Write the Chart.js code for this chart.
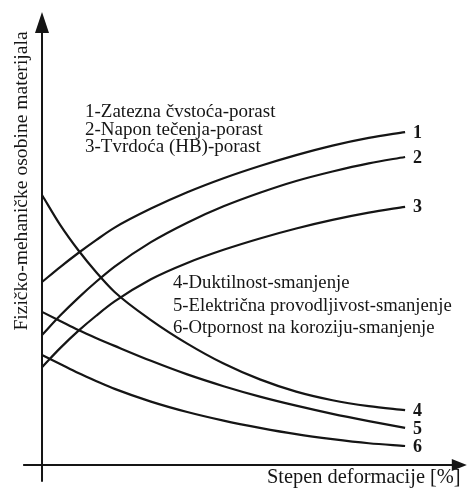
<!DOCTYPE html>
<html>
<head>
<meta charset="utf-8">
<script src="https://cdn.jsdelivr.net/npm/chart.js@4/dist/chart.umd.min.js"></script>
<style>
  html, body { margin: 0; padding: 0; background: #fff; }
  #wrap { width: 469px; height: 492px; }
</style>
</head>
<body>
<div id="wrap"><canvas id="chart"></canvas></div>
<script>
/* ── DATA (x = stepen deformacije %, y = relative property level) ── */
const xValues = [0, 5, 10, 15, 20, 30, 40, 50, 60, 70, 80, 90, 100];

const curve1 = [40.4, 43.7, 46.8, 49.7, 52.4, 56.6, 60.2, 63.3, 66.0, 68.4, 70.5, 72.2, 73.5];
const curve2 = [28.7, 33.0, 36.9, 40.5, 43.8, 49.2, 53.5, 57.1, 60.1, 62.7, 64.8, 66.6, 68.0];
const curve3 = [21.6, 25.8, 29.6, 33.0, 36.1, 41.0, 44.6, 47.5, 50.0, 52.2, 54.1, 55.7, 57.0];
const curve4 = [59.6, 53.0, 47.4, 42.5, 38.2, 32.0, 26.8, 22.4, 18.9, 16.2, 14.3, 13.0, 12.1];
const curve5 = [33.8, 31.8, 29.8, 28.0, 26.3, 23.0, 20.0, 17.4, 15.1, 13.1, 11.3, 9.7, 8.2];
const curve6 = [24.3, 22.3, 20.3, 18.5, 16.8, 14.0, 11.7, 9.8, 8.2, 6.8, 5.7, 4.8, 4.2];

const curveNames = ['1', '2', '3', '4', '5', '6'];
const riseLegend = ['1-Zatezna čvstoća-porast', '2-Napon tečenja-porast', '3-Tvrdoća (HB)-porast'];
const fallLegend = ['4-Duktilnost-smanjenje', '5-Električna provodljivost-smanjenje', '6-Otpornost na koroziju-smanjenje'];
const xTitle = 'Stepen deformacije [%]';
const yTitle = 'Fizičko-mehaničke osobine materijala';

const INK = '#151515';
const SERIF = '"Liberation Serif", "DejaVu Serif", serif';

const toPoints = arr => arr.map((v, i) => ({ x: xValues[i], y: v }));

/* ── AXES, ARROWS AND TEXT ─────────────────────────────── */
const decorations = {
  id: 'decorations',
  afterDatasetsDraw(chart) {
    const { ctx, scales: { x, y } } = chart;
    const x0 = x.getPixelForValue(0);
    const y0 = y.getPixelForValue(0);

    ctx.save();
    ctx.strokeStyle = INK;
    ctx.fillStyle = INK;
    ctx.lineWidth = 2;

    // y axis with arrow
    const yTop = y.getPixelForValue(100);
    ctx.beginPath();
    ctx.moveTo(x0, y.getPixelForValue(-3.7));
    ctx.lineTo(x0, yTop + 18);
    ctx.stroke();
    ctx.beginPath();
    ctx.moveTo(x0, yTop);
    ctx.lineTo(x0 - 7, yTop + 21);
    ctx.lineTo(x0 + 7, yTop + 21);
    ctx.closePath();
    ctx.fill();

    // x axis with arrow
    const xRight = x.getPixelForValue(117);
    ctx.beginPath();
    ctx.moveTo(x.getPixelForValue(-5.2), y0);
    ctx.lineTo(xRight - 12, y0);
    ctx.stroke();
    ctx.beginPath();
    ctx.moveTo(xRight, y0);
    ctx.lineTo(xRight - 15, y0 - 6);
    ctx.lineTo(xRight - 15, y0 + 6);
    ctx.closePath();
    ctx.fill();

    // curve numbers at line ends
    ctx.font = 'bold 18px ' + SERIF;
    ctx.textBaseline = 'middle';
    ctx.textAlign = 'left';
    chart.data.datasets.forEach((ds, i) => {
      const last = ds.data[ds.data.length - 1];
      ctx.fillText(curveNames[i], x.getPixelForValue(last.x) + 8, y.getPixelForValue(last.y) + 1);
    });

    // legend text blocks
    ctx.textBaseline = 'alphabetic';
    ctx.font = '19px ' + SERIF;
    riseLegend.forEach((t, i) => ctx.fillText(t, 85, 117 + i * 17.5));
    ctx.font = '18.7px ' + SERIF;
    fallLegend.forEach((t, i) => ctx.fillText(t, 173, 288 + i * 22.5));

    // axis titles
    ctx.font = '20.4px ' + SERIF;
    ctx.fillText(xTitle, 267, 483);
    ctx.save();
    ctx.font = '19.6px ' + SERIF;
    ctx.translate(27, 181);
    ctx.rotate(-Math.PI / 2);
    ctx.textAlign = 'center';
    ctx.fillText(yTitle, 0, 0);
    ctx.restore();

    ctx.restore();
  }
};

const lineStyle = {
  borderColor: INK,
  borderWidth: 2.2,
  pointRadius: 0,
  fill: false,
  cubicInterpolationMode: 'monotone',
};

new Chart(document.getElementById('chart'), {
  type: 'line',
  data: {
    datasets: [curve1, curve2, curve3, curve4, curve5, curve6].map((c, i) => ({
      label: curveNames[i],
      data: toPoints(c),
      ...lineStyle,
    })),
  },
  options: {
    responsive: true,
    maintainAspectRatio: false,
    animation: false,
    layout: { padding: 0 },
    plugins: {
      legend: { display: false },
      tooltip: { enabled: false },
    },
    scales: {
      x: { type: 'linear', display: false, min: -11.57, max: 117.6 },
      y: { type: 'linear', display: false, min: -5.96, max: 102.65 },
    },
  },
  plugins: [decorations],
});
</script>
</body>
</html>
